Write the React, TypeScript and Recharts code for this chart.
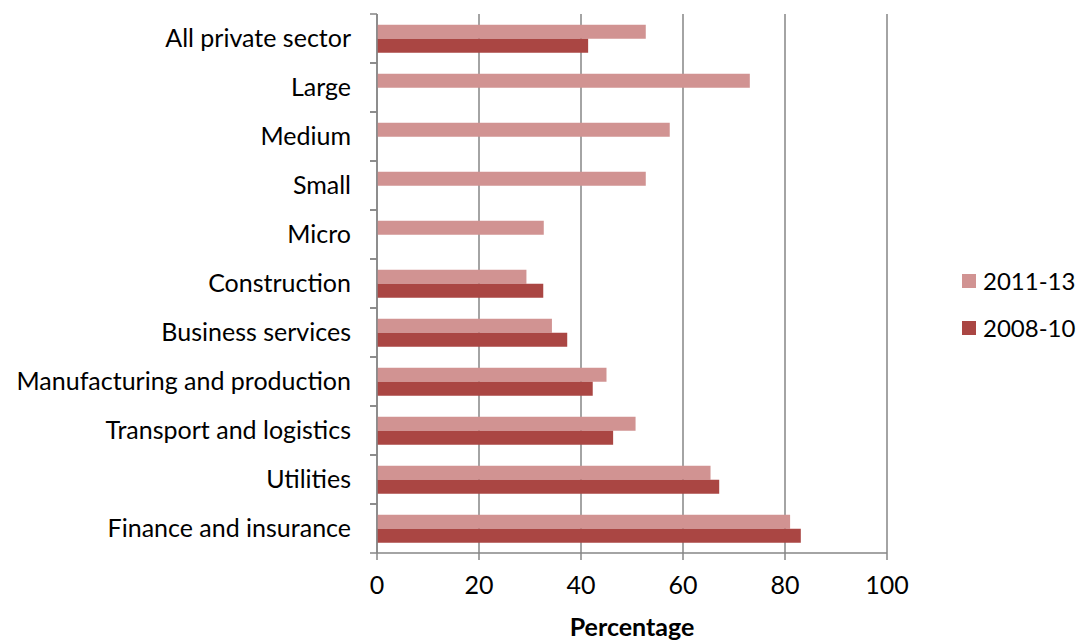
import React from 'react';
import { BarChart, Bar, XAxis, YAxis, CartesianGrid, Legend } from 'recharts';

const categories = [
  'All private sector',
  'Large',
  'Medium',
  'Small',
  'Micro',
  'Construction',
  'Business services',
  'Manufacturing and production',
  'Transport and logistics',
  'Utilities',
  'Finance and insurance',
];
const series2011 = [52.7, 73.1, 57.4, 52.7, 32.7, 29.3, 34.3, 45.0, 50.7, 65.4, 81.0];
const series2008: (number | null)[] = [41.4, null, null, null, null, 32.6, 37.3, 42.3, 46.3, 67.1, 83.1];
const xTicks = [0, 20, 40, 60, 80, 100];
const seriesNames = ['2011-13', '2008-10'];

const COLOR_LIGHT = '#D19392';
const COLOR_DARK = '#AA4643';
const GRID = '#868686';
const FONT = 'Lato, "Open Sans", sans-serif';
const FS = 25;

const data = categories.map((name, i) => ({
  name,
  s2011: series2011[i],
  s2008: series2008[i],
}));

const Y_TICK_SIZE = 7;
const Y_TICK_MARGIN = 19;

const YTick = (props: any) => {
  const { x, y, payload } = props;
  const off = typeof payload?.offset === 'number' ? payload.offset : 0;
  const axisX = x + Y_TICK_MARGIN + Y_TICK_SIZE;
  return (
    <g>
      <text
        x={x}
        y={y - 1.5}
        textAnchor="end"
        dominantBaseline="central"
        fontSize={FS}
        fontFamily={FONT}
        fill="#000"
      >
        {payload.value}
      </text>
      <line x1={axisX - Y_TICK_SIZE} x2={axisX} y1={y - off} y2={y - off} stroke={GRID} strokeWidth={1.5} />
      <line x1={axisX - Y_TICK_SIZE} x2={axisX} y1={y + off} y2={y + off} stroke={GRID} strokeWidth={1.5} />
    </g>
  );
};

const LegendContent = () => {
  const colors = [COLOR_LIGHT, COLOR_DARK];
  return (
    <div style={{ fontFamily: FONT, fontSize: 24, color: '#000', whiteSpace: 'nowrap' }}>
      {seriesNames.map((n, i) => (
        <div key={n} style={{ display: 'flex', alignItems: 'center', height: 47 }}>
          <span style={{ display: 'inline-block', width: 14, height: 14, background: colors[i], marginRight: 7, flex: 'none' }} />
          <span>{n}</span>
        </div>
      ))}
    </div>
  );
};

export default function App() {
  return (
    <div style={{ position: 'absolute', left: 0, top: 0, width: 1078, height: 641, background: '#fff' }}>
      <BarChart
        layout="vertical"
        width={1078}
        height={641}
        data={data}
        margin={{ top: 14, right: 81, bottom: 0, left: 0 }}
        barCategoryGap="22%"
        barGap={0}
      >
        <CartesianGrid horizontal={false} vertical={true} stroke={GRID} strokeWidth={1.5} strokeDasharray="" />
        <XAxis
          type="number"
          domain={[0, 100]}
          ticks={xTicks}
          interval={0}
          height={88}
          tickSize={7}
          tickMargin={16}
          axisLine={{ stroke: GRID, strokeWidth: 1.5 }}
          tickLine={{ stroke: GRID, strokeWidth: 1.5 }}
          tick={{ fontSize: FS, fontFamily: FONT, fill: '#000' }}
          label={{
            value: 'Percentage',
            position: 'insideBottom',
            offset: 5,
            style: { fontSize: 25, fontFamily: FONT, fontWeight: 'bold', fill: '#000' },
          }}
        />
        <YAxis
          type="category"
          dataKey="name"
          width={377}
          tickLine={false}
          tickSize={Y_TICK_SIZE}
          tickMargin={Y_TICK_MARGIN}
          axisLine={{ stroke: GRID, strokeWidth: 1.5 }}
          tick={<YTick />}
          interval={0}
        />
        <Legend
          layout="vertical"
          align="right"
          verticalAlign="middle"
          width={110}
          content={<LegendContent />}
          wrapperStyle={{ left: 962, top: 257 }}
        />
        <Bar dataKey="s2011" name={seriesNames[0]} fill={COLOR_LIGHT} isAnimationActive={false} />
        <Bar dataKey="s2008" name={seriesNames[1]} fill={COLOR_DARK} isAnimationActive={false} />
      </BarChart>
    </div>
  );
}
